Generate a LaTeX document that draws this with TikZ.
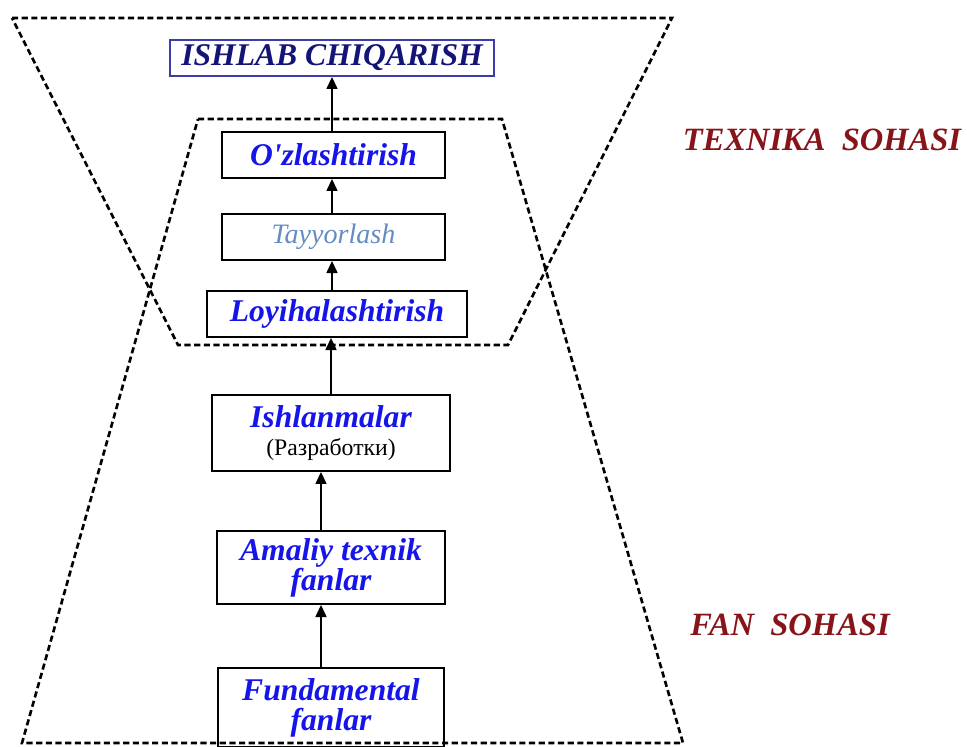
\documentclass[tikz,border=0pt]{standalone}
\usepackage{fontspec}
\setmainfont{Liberation Serif}
\usetikzlibrary{arrows.meta,positioning,calc}

\definecolor{boxblue}{RGB}{20,20,235}
\definecolor{ishnavy}{RGB}{20,20,120}
\definecolor{frameblue}{RGB}{60,60,170}
\definecolor{paleblue}{RGB}{100,140,195}
\definecolor{zonered}{RGB}{135,20,25}

\begin{document}
\begin{tikzpicture}[x=0.02cm, y=-0.02cm,
		box/.style={draw, line width=0.8pt, rectangle, inner sep=0pt, align=center, text=boxblue, font=\fontsize{18}{17}\selectfont\bfseries\itshape},
		zone/.style={line width=1.5pt, dash pattern=on 3.5pt off 2pt},
		arr/.style={-{Triangle[length=7pt,width=6pt]}, line width=1.6pt},
		lbl/.style={text=zonered, font=\fontsize{18.5}{18}\selectfont\bfseries\itshape}]
				\useasboundingbox (0,0) rectangle (967,747);
				
				% Zones
				\draw[zone] (12,18) -- (672,18) -- (508,345) -- (178,345) -- cycle;
				\draw[zone] (198,119) -- (502,119) -- (683,743) -- (22,743) -- cycle;
				
				% Boxes
				\node[box, draw=frameblue, text=ishnavy, minimum width=6.48cm, minimum height=0.72cm] (ishlab) at (332,58) {ISHLAB CHIQARISH};
				\node[box, minimum width=4.46cm, minimum height=0.92cm] (ozlash) at (333.5,155) {O\textquotesingle zlashtirish};
				\node[box, text=paleblue, font=\fontsize{16}{16}\selectfont\itshape, minimum width=4.46cm, minimum height=0.92cm] (tayyor) at (333.5,237) {Tayyorlash};
				\node[box, minimum width=5.2cm, minimum height=0.92cm] (loyiha) at (337,314) {Loyihalashtirish};
				\node[box, minimum width=4.76cm, minimum height=1.52cm] (ishlan) at (331,433) {Ishlanmalar\\[-1pt]{\color{black}\mdseries\upshape\fontsize{13.5}{13.5}\selectfont (Разработки)}};
				\node[box, minimum width=4.56cm, minimum height=1.46cm] (amaliy) at (331,567.5) {Amaliy texnik\\fanlar};
				\node[box, minimum width=4.52cm, minimum height=1.58cm] (fundam) at (331,707.5) {Fundamental\\fanlar};
				
				% Arrows
				\draw[arr] (ozlash.north -| ishlab.south) -- (ishlab.south);
				\draw[arr] (tayyor.north -| ishlab.south) -- (ozlash.south -| ishlab.south);
				\draw[arr] (loyiha.north -| ishlab.south) -- (tayyor.south -| ishlab.south);
				\draw[arr] (ishlan.north) -- (loyiha.south -| ishlan.north);
				\draw[arr] ([xshift=-0.2cm]amaliy.north) -- ([xshift=-0.2cm]ishlan.south);
				\draw[arr] ([xshift=-0.2cm]fundam.north) -- ([xshift=-0.2cm]amaliy.south);
				
				% Labels
				\node[lbl] (texnika) at (822,140) {TEXNIKA\ \ SOHASI};
				\node[lbl] (fan) at (790,625) {FAN\ \ SOHASI};
				
			\end{tikzpicture}
\end{document}
